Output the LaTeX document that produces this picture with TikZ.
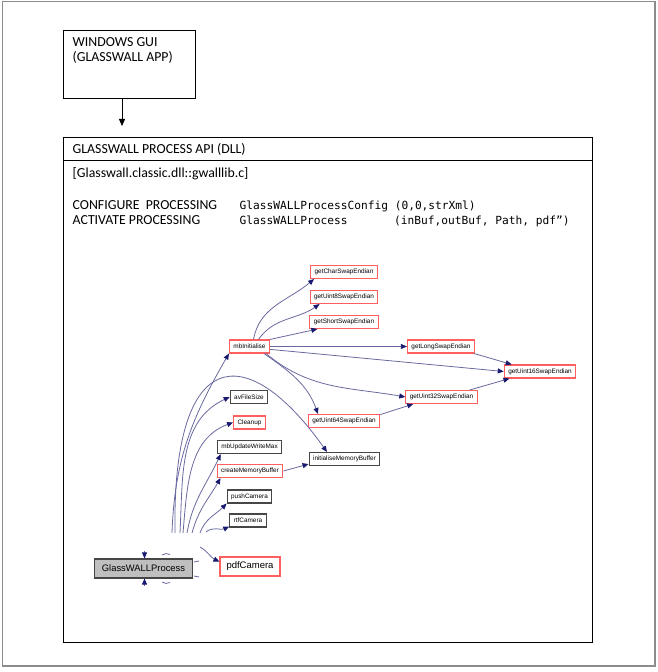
\documentclass[tikz,border=0pt]{standalone}
\usepackage{fontspec}
\usepackage{tikz}
\setmainfont{Carlito}
\setmonofont{DejaVu Sans Mono}
\newfontfamily\graphfont{Liberation Sans}
\usetikzlibrary{arrows.meta, positioning}
\definecolor{edgeblue}{RGB}{105,105,160}
\definecolor{tipblue}{RGB}{25,25,112}
\definecolor{boxred}{RGB}{255,95,95}
\definecolor{boxgrey}{RGB}{70,70,70}
\definecolor{procgrey}{RGB}{191,191,191}
\definecolor{framegrey}{RGB}{140,140,140}

\begin{document}
\begin{tikzpicture}[x=1pt, y=1pt,
    call/.style={draw=edgeblue, line width=0.8pt, -{Triangle[length=6pt, width=5pt, color=tipblue]}},
    stub/.style={draw=edgeblue, line width=0.8pt}]
  \useasboundingbox (0,0) rectangle (657,672);
  \draw[framegrey, line width=1.2pt] (2.5,6) rectangle (655,670.5);

  \begin{scope}[every node/.style={draw=black, line width=1pt, inner sep=0pt, anchor=north west}]
    \node[minimum width=132, minimum height=68] (gui) at (63,642) {};
    \node[minimum width=529, minimum height=505] (api) at (63,535) {};
  \end{scope}
  \coordinate (div) at (63,512);
  \draw[line width=0.8pt] (div) -- (div -| api.east);
  \coordinate (guiarrow) at (122,546);
  \draw[line width=0.8pt, -{Triangle[length=7pt, width=6pt]}] (gui.south -| guiarrow) -- (guiarrow);

  \begin{scope}[every node/.style={inner sep=0pt, anchor=base west, font=\fontsize{13.8}{15}\selectfont}]
    \node (gui1) at (72.5,625.6) {WINDOWS GUI};
    \node (gui2) at (72.5,610.6) {(GLASSWALL APP)};
    \node (title) at (72.5,518) {GLASSWALL PROCESS API (DLL)};
    \node (lib) at (72.5,494.7) {[Glasswall.classic.dll::gwalllib.c]};
    \node (cfg) at (72.5,462.7) {CONFIGURE\ \ PROCESSING};
    \node (act) at (72.5,447.7) {ACTIVATE PROCESSING};
    \node[font=\ttfamily\fontsize{11.2}{13}\selectfont] (cfgcall) at (239.5,462.7) {GlassWALLProcessConfig (0,0,strXml)};
    \node[font=\ttfamily\fontsize{11.2}{13}\selectfont] (actcall) at (239.5,447.7) {GlassWALLProcess};
    \node[font=\ttfamily\fontsize{11.2}{13}\selectfont] (actargs) at (394,447.7) {(inBuf,outBuf, Path, pdf”)};
  \end{scope}

  \begin{scope}[every node/.style={draw=boxred, line width=1.1pt, inner xsep=4pt, inner ysep=0pt,
      minimum height=13, font=\graphfont\fontsize{6.4}{7}\selectfont}]
    \node (chr) at (344,400) {getCharSwapEndian};
    \node (u8) at (344,375) {getUint8SwapEndian};
    \node (shrt) at (344,350) {getShortSwapEndian};
    \node (mbi) at (249.5,325.5) {mbInitialise};
    \node (lng) at (441,325.5) {getLongSwapEndian};
    \node (u16) at (540,300.5) {getUint16SwapEndian};
    \node (u32) at (441.5,275) {getUint32SwapEndian};
    \node (u64) at (344,251) {getUint64SwapEndian};
    \node[draw=boxgrey] (avf) at (249,275) {avFileSize};
    \node (clean) at (249.5,249.5) {Cleanup};
    \node[draw=boxgrey] (upd) at (249.5,225) {mbUpdateWriteMax};
    \node[draw=boxgrey] (initbuf) at (344.5,213) {initialiseMemoryBuffer};
    \node (cmb) at (250,201) {createMemoryBuffer};
    \node[draw=boxgrey] (push) at (249.5,175.5) {pushCamera};
    \node[draw=boxgrey] (rtf) at (248,151.5) {rtfCamera};
    \node[minimum height=19, inner xsep=6.5pt, font=\graphfont\fontsize{9.5}{11}\selectfont] (pdf) at (250,105.5) {pdfCamera};
    \node[draw=boxgrey, fill=procgrey, minimum height=19, inner xsep=7.5pt,
      font=\graphfont\fontsize{9.4}{11}\selectfont] (gwp) at (143.5,103.5) {GlassWALLProcess};
  \end{scope}

  \coordinate (s1) at (172,139);
  \coordinate (s2) at (175,139);
  \coordinate (s3) at (180,139);
  \coordinate (s4) at (183,139);
  \coordinate (s5) at (187,139);
  \coordinate (s6) at (192,139);
  \coordinate (s7) at (200,139);
  \coordinate (s8) at (206,140);
  \coordinate (s9) at (200,125);
  \coordinate (g1) at (144.5,121);
  \coordinate (g2) at (144.5,86);

  \begin{scope}[every edge/.style={call}]
    \path (s1) edge[out=88, in=240] (mbi.south west);
    \path (s3) edge[out=87, in=205] (avf.west);
    \path (s4) edge[out=85, in=200] (clean.west);
    \path (s5) edge[out=80, in=245] ([xshift=4pt]upd.south west);
    \path (s6) edge[out=75, in=240] ([xshift=4pt]cmb.south west);
    \path (s7) edge[out=70, in=225] (push.south west);
    \path (s8) edge[out=40, in=205] ([yshift=1pt]rtf.south west);
    \path (s9) edge[out=-30, in=155] (pdf.171);
    \path ([xshift=4pt]mbi.north) edge[out=80, in=220] ([xshift=4pt]chr.south west);
    \path ([xshift=9pt]mbi.north) edge[out=55, in=215] ([xshift=10pt]u8.south west);
    \path (mbi.north east) edge ([xshift=8pt]shrt.south west);
    \path (mbi.east) edge (lng.west);
    \path (mbi.-8) edge (u16.west);
    \path ([xshift=-4pt]mbi.south east) edge[out=-40, in=170] (u32.west);
    \path ([xshift=-6pt]mbi.south east) edge[out=-35, in=110] ([xshift=-26pt]u64.north);
    \path (lng.-12) edge (u16.166);
    \path (u32.14) edge (u16.193);
    \path (u64.10) edge (u32.194);
    \path (cmb.east) edge (initbuf.188);
    \path (g1) edge (g1 |- gwp.north);
    \path (g2) edge (g2 |- gwp.south);
  \end{scope}
  \draw[call] (s2) .. controls (172,325) and (245,335) .. ([xshift=-17.5pt]initbuf.north);
  \draw[stub] (162,117) to[bend left=30] (170,117.5);
  \draw[stub] (194,110) -- (199,111);
  \draw[stub] (194,96) -- (199,95);
  \draw[stub] (162,90) to[bend right=30] (170,89.5);
\end{tikzpicture}
\end{document}
